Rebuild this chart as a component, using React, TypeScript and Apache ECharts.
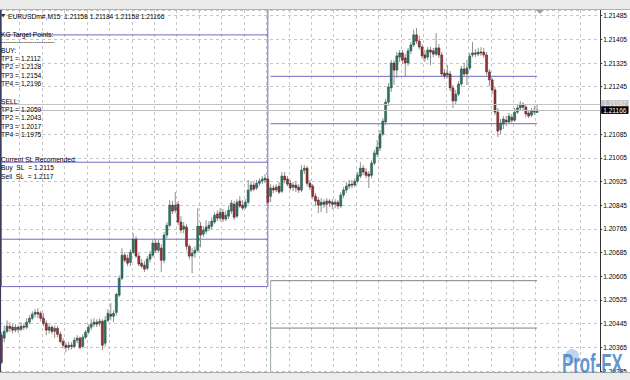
import React, { useEffect, useRef } from "react";
import * as echarts from "echarts";

// M15 bar slots that fit the chart width (including the right shift space)
const SLOTS = 214;
const categories: string[] = Array.from({ length: SLOTS }, (_, i) => `bar${i}`);

// [open, close, low, high] — previous day (bars 0..95)
const prevDayCandles: number[][] = [
  [1.20406, 1.20314, 1.20308, 1.20416], [1.20396, 1.20419, 1.20382, 1.20439], [1.20419, 1.20436, 1.20412, 1.20456],
  [1.20436, 1.20429, 1.20416, 1.2045], [1.20433, 1.20423, 1.20412, 1.20443], [1.20423, 1.20433, 1.20416, 1.20443],
  [1.20433, 1.20426, 1.20412, 1.20439], [1.20426, 1.20436, 1.20419, 1.2045], [1.20436, 1.20433, 1.20423, 1.20446],
  [1.20433, 1.2045, 1.20426, 1.20463], [1.2045, 1.20463, 1.20443, 1.20473], [1.20463, 1.20477, 1.20456, 1.20487],
  [1.20477, 1.20483, 1.20466, 1.20494], [1.20483, 1.20477, 1.20463, 1.20497], [1.2048, 1.20463, 1.20453, 1.20487],
  [1.20463, 1.20446, 1.20436, 1.2048], [1.20446, 1.20423, 1.20406, 1.20456], [1.20423, 1.20433, 1.20412, 1.20443],
  [1.20433, 1.20419, 1.20409, 1.20439], [1.20419, 1.20429, 1.20396, 1.20439], [1.20429, 1.20409, 1.20399, 1.20436],
  [1.20409, 1.20385, 1.20379, 1.20419], [1.20385, 1.20372, 1.20362, 1.20396], [1.20372, 1.20365, 1.20348, 1.20382],
  [1.20365, 1.20372, 1.20355, 1.20385], [1.20372, 1.20368, 1.20358, 1.20382], [1.20368, 1.20389, 1.20362, 1.20399],
  [1.20389, 1.20396, 1.20379, 1.20406], [1.20396, 1.20365, 1.20358, 1.20402], [1.20368, 1.20399, 1.20362, 1.20409],
  [1.20399, 1.20416, 1.20392, 1.20423], [1.20416, 1.20433, 1.20409, 1.20443], [1.20433, 1.20443, 1.20423, 1.2046],
  [1.20443, 1.2045, 1.20433, 1.20463], [1.2045, 1.20443, 1.20433, 1.2046], [1.20446, 1.20453, 1.20436, 1.20463],
  [1.20453, 1.20372, 1.20355, 1.2046], [1.20379, 1.20456, 1.20368, 1.2047], [1.20456, 1.2048, 1.2045, 1.20494],
  [1.20477, 1.2047, 1.20456, 1.20514], [1.2047, 1.2048, 1.2045, 1.2049], [1.20483, 1.20544, 1.20473, 1.20548],
  [1.20541, 1.20598, 1.20534, 1.20608], [1.20598, 1.20676, 1.20592, 1.207], [1.20676, 1.20659, 1.20652, 1.20686],
  [1.20666, 1.20649, 1.20639, 1.20679], [1.20652, 1.20686, 1.20639, 1.20696], [1.20686, 1.2073, 1.20679, 1.2075],
  [1.2073, 1.20673, 1.20666, 1.2074], [1.20673, 1.20646, 1.20639, 1.20683], [1.20649, 1.20639, 1.20632, 1.20663],
  [1.20642, 1.20629, 1.20619, 1.20656], [1.20632, 1.20663, 1.20625, 1.20673], [1.20663, 1.20679, 1.20652, 1.2069],
  [1.20676, 1.20717, 1.20669, 1.20727], [1.20717, 1.20693, 1.20683, 1.20727], [1.20693, 1.20717, 1.20686, 1.20727],
  [1.207, 1.20659, 1.20619, 1.20713], [1.20659, 1.20744, 1.20649, 1.20754], [1.20744, 1.20777, 1.20734, 1.20788],
  [1.20777, 1.20845, 1.20771, 1.20862], [1.20845, 1.20825, 1.20815, 1.20859], [1.20828, 1.20845, 1.20818, 1.20889],
  [1.20848, 1.20788, 1.20777, 1.20859], [1.20788, 1.20761, 1.2075, 1.20808], [1.20764, 1.20774, 1.2075, 1.20788],
  [1.20771, 1.20706, 1.20693, 1.20781], [1.20706, 1.20673, 1.20663, 1.20713], [1.20673, 1.20683, 1.20615, 1.207],
  [1.20683, 1.20693, 1.20666, 1.20706], [1.20693, 1.20774, 1.20686, 1.20835], [1.20774, 1.20744, 1.20703, 1.20788],
  [1.20747, 1.20761, 1.20737, 1.20774], [1.20757, 1.20771, 1.20747, 1.20794], [1.20767, 1.20777, 1.20757, 1.20791],
  [1.20774, 1.20791, 1.20764, 1.20804], [1.20788, 1.20811, 1.20781, 1.20821], [1.20815, 1.20801, 1.20791, 1.20828],
  [1.20801, 1.20821, 1.20791, 1.20835], [1.20821, 1.20798, 1.20788, 1.20832], [1.20798, 1.20811, 1.20791, 1.20825],
  [1.20808, 1.20828, 1.20798, 1.20842], [1.20825, 1.20852, 1.20815, 1.20862], [1.20848, 1.20804, 1.20794, 1.20859],
  [1.20808, 1.20855, 1.20801, 1.20865], [1.20859, 1.20842, 1.20835, 1.20875], [1.20845, 1.20835, 1.20828, 1.20862],
  [1.20838, 1.20855, 1.20832, 1.20865], [1.20855, 1.20896, 1.20848, 1.2093], [1.20896, 1.20913, 1.20889, 1.20926],
  [1.20913, 1.20899, 1.20892, 1.20923], [1.20903, 1.20919, 1.20896, 1.2093], [1.20919, 1.20926, 1.20909, 1.20936],
  [1.20926, 1.20933, 1.20916, 1.20943], [1.2093, 1.20936, 1.20919, 1.2095], [1.20933, 1.20855, 1.20835, 1.20943],
];

// [open, close, low, high] — current day (bars 96..191)
const todayCandles: number[][] = [
  [1.20875, 1.20903, 1.20855, 1.20916], [1.20903, 1.20896, 1.20886, 1.20913], [1.20896, 1.20906, 1.20889, 1.20916],
  [1.20909, 1.20889, 1.20882, 1.20923], [1.20892, 1.20943, 1.20886, 1.20957], [1.20943, 1.2093, 1.20919, 1.20957],
  [1.20933, 1.20916, 1.20909, 1.20943], [1.20919, 1.20903, 1.20896, 1.2093], [1.20906, 1.20913, 1.20892, 1.20923],
  [1.20913, 1.20903, 1.20889, 1.20926], [1.20906, 1.20896, 1.20886, 1.20916], [1.20896, 1.20963, 1.20889, 1.2098],
  [1.20963, 1.2097, 1.2095, 1.2098], [1.2097, 1.20919, 1.20909, 1.20977], [1.20919, 1.20906, 1.20896, 1.2093],
  [1.20909, 1.20875, 1.20865, 1.20916], [1.20875, 1.20859, 1.20842, 1.20886], [1.20862, 1.20845, 1.20818, 1.20872],
  [1.20845, 1.20855, 1.20821, 1.20869], [1.20855, 1.20848, 1.20835, 1.20865], [1.20848, 1.20859, 1.20818, 1.20869],
  [1.20859, 1.20852, 1.20838, 1.20865], [1.20855, 1.20848, 1.20832, 1.20865], [1.20848, 1.20855, 1.20835, 1.20865],
  [1.20855, 1.20842, 1.20832, 1.20862], [1.20842, 1.20879, 1.20835, 1.20889], [1.20879, 1.20896, 1.20869, 1.20906],
  [1.20896, 1.20909, 1.20886, 1.20923], [1.20909, 1.20916, 1.20899, 1.2093], [1.20916, 1.20913, 1.20903, 1.2093],
  [1.20913, 1.20926, 1.20906, 1.20936], [1.20926, 1.20946, 1.20919, 1.20957], [1.20943, 1.2097, 1.20936, 1.2099],
  [1.2097, 1.20957, 1.20946, 1.2098], [1.20957, 1.20946, 1.20936, 1.2097], [1.2095, 1.20943, 1.20903, 1.2096],
  [1.20946, 1.20987, 1.20936, 1.20997], [1.20987, 1.21021, 1.2098, 1.21031], [1.21017, 1.21041, 1.21007, 1.21065],
  [1.21038, 1.21085, 1.21028, 1.21099], [1.21085, 1.21129, 1.21078, 1.21139], [1.21126, 1.21193, 1.21115, 1.21203],
  [1.21193, 1.21244, 1.2118, 1.21257], [1.21241, 1.21325, 1.21227, 1.21335], [1.21325, 1.21301, 1.21251, 1.21335],
  [1.21301, 1.21349, 1.21274, 1.21362], [1.21345, 1.21359, 1.21328, 1.21369], [1.21359, 1.21335, 1.21322, 1.21369],
  [1.21342, 1.21325, 1.21278, 1.21355], [1.21325, 1.21366, 1.21315, 1.21376], [1.21366, 1.21386, 1.21355, 1.21396],
  [1.21386, 1.2142, 1.21379, 1.21437], [1.2142, 1.21399, 1.21389, 1.21443], [1.21399, 1.21379, 1.21372, 1.21416],
  [1.21379, 1.21349, 1.21339, 1.21389], [1.21352, 1.21342, 1.21328, 1.21369], [1.21345, 1.21369, 1.21335, 1.21379],
  [1.21369, 1.21362, 1.21318, 1.21379], [1.21366, 1.21355, 1.21345, 1.21376], [1.21355, 1.21376, 1.21349, 1.21426],
  [1.21376, 1.21352, 1.21342, 1.21389], [1.21352, 1.21288, 1.21278, 1.21362], [1.21291, 1.21281, 1.21271, 1.21305],
  [1.21284, 1.21291, 1.21274, 1.21318], [1.21288, 1.21241, 1.2123, 1.21298], [1.21241, 1.21197, 1.21173, 1.21251],
  [1.21197, 1.2122, 1.21186, 1.21234], [1.2122, 1.21254, 1.21213, 1.21264], [1.21254, 1.21305, 1.21247, 1.21315],
  [1.21305, 1.21288, 1.21278, 1.21325], [1.21288, 1.21308, 1.21251, 1.21335], [1.21308, 1.21349, 1.21301, 1.21359],
  [1.21352, 1.21359, 1.21345, 1.21396], [1.21359, 1.21355, 1.21345, 1.21372], [1.21355, 1.21362, 1.21349, 1.21376],
  [1.21362, 1.21359, 1.21349, 1.21379], [1.21362, 1.21352, 1.21342, 1.21376], [1.21352, 1.21295, 1.21284, 1.21362],
  [1.21295, 1.21268, 1.21247, 1.21305], [1.21268, 1.21234, 1.2122, 1.21274], [1.21234, 1.21159, 1.21149, 1.21244],
  [1.21159, 1.21095, 1.21075, 1.21173], [1.21099, 1.21122, 1.21085, 1.21136], [1.21119, 1.21136, 1.21102, 1.21146],
  [1.21132, 1.21126, 1.21112, 1.21146], [1.21126, 1.21146, 1.21119, 1.21156], [1.21142, 1.21132, 1.21122, 1.21153],
  [1.21132, 1.21159, 1.21126, 1.21173], [1.21159, 1.21173, 1.21153, 1.21183], [1.21173, 1.21186, 1.21166, 1.21197],
  [1.21186, 1.21176, 1.21166, 1.21193], [1.21176, 1.21153, 1.21142, 1.21186], [1.21156, 1.21146, 1.21139, 1.21166],
  [1.21149, 1.21163, 1.21142, 1.21173], [1.21159, 1.21166, 1.21149, 1.2118], [1.21158, 1.21166, 1.21158, 1.21184],
];

// price axis
const yMin = 1.20285;
const yMax = 1.21504;
const yStep = 0.0008;

// indicator levels
const prevDayLevels = [1.2142, 1.2099, 1.2073, 1.2057];
const buyLevels = [1.2128, 1.2112];
const sellLevels = [1.2059, 1.2043];
const askPrice = 1.21187;
const bidPrice = 1.21166;
const prevDayFirstBar = 0;
const prevDayLastBar = 95;
const todayFirstBar = 96;
const todayLastBar = 191;

// texts
const headerText = "EURUSDm#,M15\u00a0 1.21158 1.21184 1.21158 1.21166";
const panelTexts = [
  "KG Target Points:",
  "------------------------",
  "BUY:",
  "TP1 = 1.2112",
  "TP2 = 1.2128",
  "TP3 = 1.2154",
  "TP4 = 1.2196",
  "SELL:",
  "TP1 = 1.2059",
  "TP2 = 1.2043",
  "TP3 = 1.2017",
  "TP4 = 1.1975",
  "Current SL Recomended:",
  "Buy\u00a0 SL\u00a0 = 1.2115",
  "Sell\u00a0 SL\u00a0 = 1.2117",
];
const logoText = "Prof-FX";

const PANEL_ROW_Y = [34.3, 41.2, 50, 58.3, 66.7, 75, 83.3, 101, 109.3, 117.6, 126, 134.3, 159, 167.7, 176];
const FONT = '"Liberation Sans", Arial, sans-serif';
const PURPLE = "#7467c4";
const SLATE = "#788686";
const GRID = "#c6c6c6";

export default function App() {
  const ref = useRef<HTMLDivElement>(null);

  useEffect(() => {
    if (!ref.current) return;
    const chart = echarts.init(ref.current, undefined, { renderer: "svg" });
    const allCandles = [...prevDayCandles, ...todayCandles].map((d, i) => [i, d[0], d[1], d[2], d[3]]);

    const seg = (x0: number, y0: number, x1: number, y1: number, color: string) => ({
      type: "line",
      data: [
        [x0, y0],
        [x1, y1],
      ],
      symbol: "none",
      silent: true,
      z: 2,
      lineStyle: { color, width: 1 },
    });

    const levelSeries: any[] = [];
    prevDayLevels.forEach((v) => levelSeries.push(seg(prevDayFirstBar, v, prevDayLastBar, v, PURPLE)));
    levelSeries.push(seg(prevDayFirstBar, yMax, prevDayFirstBar, prevDayLevels[3], PURPLE));
    levelSeries.push(seg(prevDayLastBar, yMax, prevDayLastBar, prevDayLevels[3], PURPLE));
    buyLevels.forEach((v) => levelSeries.push(seg(todayFirstBar, v, todayLastBar, v, PURPLE)));
    sellLevels.forEach((v) => levelSeries.push(seg(todayFirstBar, v, todayLastBar, v, SLATE)));
    levelSeries.push(seg(todayFirstBar, sellLevels[0], todayFirstBar, yMin, "#9aa6a6"));

    const priceLabel = (bg: string, fg: string) => ({
      show: true,
      position: "end",
      distance: 1,
      color: fg,
      backgroundColor: bg,
      padding: [1, 2, 0, 2],
      fontSize: 6.6,
      lineHeight: 6.6,
      fontFamily: FONT,
    });

    const option: any = {
      animation: false,
      backgroundColor: "#ffffff",
      grid: { left: 0, right: 27, top: 10, bottom: 9, containLabel: false },
      xAxis: {
        type: "category",
        data: categories,
        boundaryGap: true,
        axisLine: { show: false },
        axisTick: { show: false },
        axisLabel: { show: false },
        splitLine: {
          show: true,
          interval: (i: number) => i % 8 === 7,
          lineStyle: { color: GRID, type: [3, 3], width: 1 },
        },
      },
      yAxis: {
        type: "value",
        position: "right",
        min: yMin,
        max: yMax,
        interval: yStep,
        axisLine: { show: true, lineStyle: { color: "#333", width: 1 } },
        axisTick: { show: true, length: 2, lineStyle: { color: "#333" } },
        axisLabel: {
          show: true,
          margin: 3,
          fontSize: 6.6,
          fontFamily: FONT,
          color: "#000",
          showMaxLabel: false,
          formatter: (v: number) => v.toFixed(5),
        },
        splitLine: { show: true, lineStyle: { color: GRID, type: [3, 3], width: 1 } },
      },
      series: [
        ...levelSeries,
        {
          type: "custom",
          z: 3,
          silent: true,
          data: allCandles,
          encode: { x: 0, y: [1, 2, 3, 4] },
          renderItem: (_params: any, api: any) => {
            const idx = api.value(0);
            const o = api.value(1);
            const c = api.value(2);
            const l = api.value(3);
            const h = api.value(4);
            const pO = api.coord([idx, o]);
            const pC = api.coord([idx, c]);
            const pL = api.coord([idx, l]);
            const pH = api.coord([idx, h]);
            const bw = api.size([1, 0])[0] * 0.72;
            const up = c >= o;
            const top = Math.min(pO[1], pC[1]);
            const hgt = Math.max(Math.abs(pO[1] - pC[1]), 1);
            return {
              type: "group",
              children: [
                {
                  type: "line",
                  shape: { x1: pH[0], y1: pH[1], x2: pL[0], y2: pL[1] },
                  style: { stroke: "#8f8f8f", lineWidth: 1 },
                },
                {
                  type: "rect",
                  shape: { x: pO[0] - bw / 2, y: top, width: bw, height: hgt },
                  style: {
                    fill: up ? "#2b7767" : "#9b3333",
                    stroke: up ? "#1c4840" : "#4a1b1b",
                    lineWidth: 0.5,
                  },
                },
              ],
            };
          },
        },
        {
          type: "line",
          z: 4,
          data: [[0, askPrice]],
          symbol: "none",
          silent: true,
          lineStyle: { opacity: 0 },
          markLine: {
            silent: true,
            symbol: "none",
            animation: false,
            precision: 5,
            data: [
              {
                yAxis: askPrice,
                lineStyle: { color: "#c4c4c4", width: 1, type: "solid" },
                label: { ...priceLabel("#c0c0c0", "#f4f4f4"), formatter: askPrice.toFixed(5) },
              },
              {
                yAxis: bidPrice,
                lineStyle: { color: "#bdbdbd", width: 1, type: "solid" },
                label: { ...priceLabel("#000000", "#ffffff"), formatter: bidPrice.toFixed(5) },
              },
            ],
          },
        },
      ],
      graphic: [
        // top toolbar strip
        { type: "rect", z: 100, shape: { x: 0, y: 0, width: 630, height: 9 }, style: { fill: "#ebebeb" } },
        { type: "line", z: 100, shape: { x1: 0, y1: 9.5, x2: 630, y2: 9.5 }, style: { stroke: "#b0b0b0", lineWidth: 1 } },
        // bottom strip
        { type: "rect", z: 100, shape: { x: 0, y: 373, width: 630, height: 7 }, style: { fill: "#ececec" } },
        { type: "line", z: 100, shape: { x1: 0, y1: 372.5, x2: 630, y2: 372.5 }, style: { stroke: "#a8a8a8", lineWidth: 1 } },
        // left window border
        { type: "line", z: 90, shape: { x1: 0.5, y1: 10, x2: 0.5, y2: 372 }, style: { stroke: "#3c3c5c", lineWidth: 1.2 } },
        // chart-shift marker
        { type: "polygon", z: 90, shape: { points: [[536, 10], [544, 10], [540, 14]] }, style: { fill: "#a0a0a0" } },
        // header
        { type: "polygon", z: 90, shape: { points: [[1, 14], [5.5, 14], [3.2, 17.5]] }, style: { fill: "#333" } },
        {
          type: "text",
          z: 90,
          x: 8,
          y: 16,
          style: { text: headerText, fill: "#000", font: `6.7px ${FONT}`, textVerticalAlign: "middle", verticalAlign: "middle" },
        },
        // indicator panel
        ...panelTexts.map((t, k) => ({
          type: "text",
          z: 90,
          x: 1,
          y: PANEL_ROW_Y[k],
          style: { text: t, fill: "#000", font: `6.7px ${FONT}`, textVerticalAlign: "middle", verticalAlign: "middle" },
        })),
        // watermark logo
        { type: "circle", z: 101, shape: { cx: 572, cy: 356, r: 7 }, style: { fill: "rgba(110,165,215,0.45)" } },
        {
          type: "text",
          z: 102,
          x: 562,
          y: 377,
          scaleX: 0.6,
          style: {
            text: logoText,
            fill: "rgba(60,128,196,0.82)",
            font: `bold 28px ${FONT}`,
            textVerticalAlign: "bottom",
            verticalAlign: "bottom",
          },
        },
      ],
    };

    chart.setOption(option);
    return () => chart.dispose();
  }, []);

  return <div ref={ref} style={{ position: "fixed", left: 0, top: 0, width: 630, height: 380 }} />;
}
